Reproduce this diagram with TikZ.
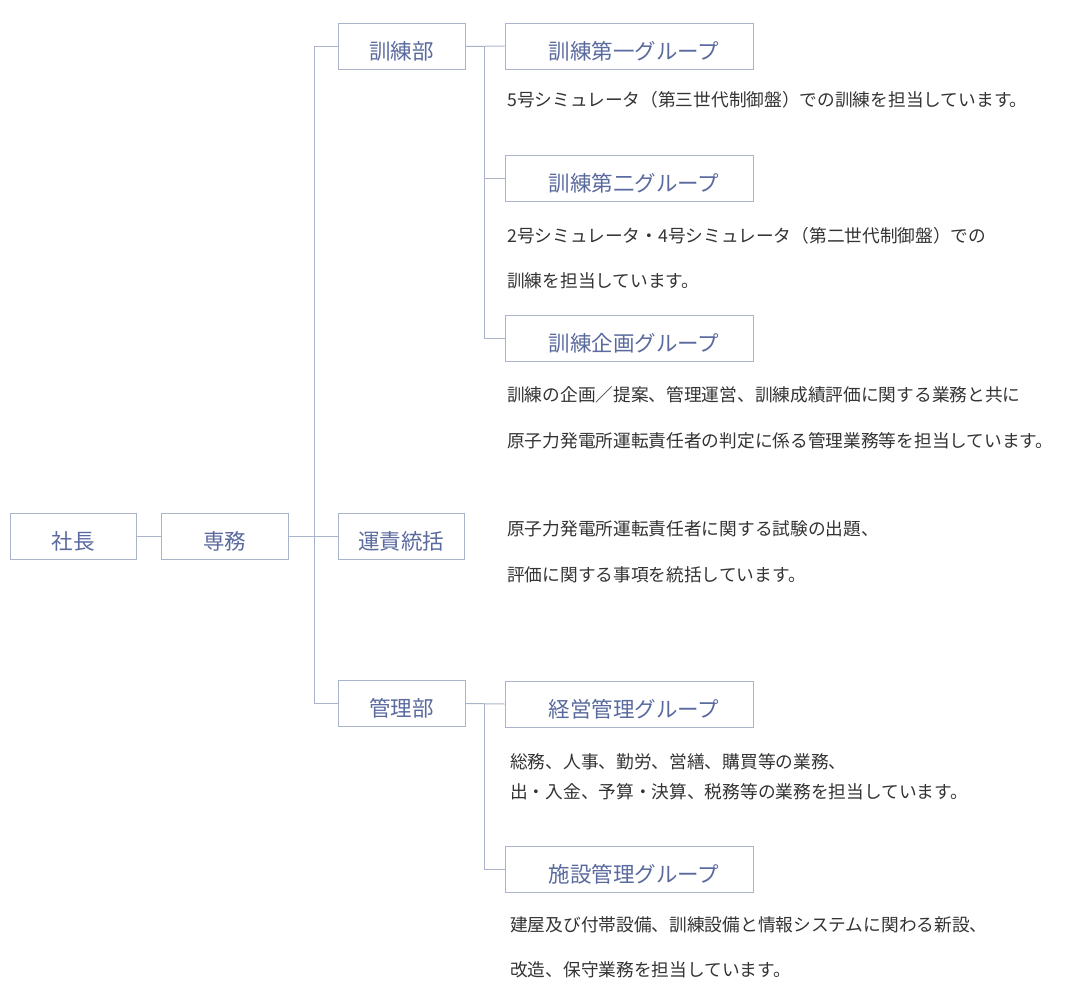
\documentclass[tikz,border=0pt]{standalone}
\usepackage{fontspec}
\setmainfont{Noto Sans CJK JP}
\definecolor{boxline}{HTML}{A9B3C9}
\definecolor{labelc}{HTML}{5A6A9E}
\definecolor{descc}{HTML}{333333}
\begin{document}
\begin{tikzpicture}[x=1pt,y=-1pt,
  unit/.style={draw=boxline,line width=1pt,minimum height=46pt,inner sep=0pt,text height=26pt,text depth=0pt,text=labelc,font=\fontsize{21.5}{24}\selectfont},
  small/.style={unit,minimum width=127pt},
  grp/.style={unit,minimum width=248pt,execute at begin node={\hspace*{10pt}}},
  desc/.style={anchor=west,inner sep=0pt,text=descc,font=\fontsize{17.7}{20}\selectfont},
  conn/.style={draw=boxline,line width=1pt}]
\useasboundingbox (0,0) rectangle (1085,985);
\node[small,minimum width=126pt] (shacho) at (73,536) {社長};
\node[small] (senmu) at (224.5,536) {専務};
\node[small] (kunrenbu) at (401.5,46.5) {訓練部};
\node[small,minimum width=126pt] (unseki) at (401,536.5) {運責統括};
\node[small] (kanribu) at (401.5,703.5) {管理部};
\node[grp] (g1) at (629,46) {訓練第一グループ};
\node[grp] (g2) at (629,178) {訓練第二グループ};
\node[grp] (g3) at (629,338.5) {訓練企画グループ};
\node[grp] (g4) at (629,704) {経営管理グループ};
\node[grp] (g5) at (629,869) {施設管理グループ};
\draw[conn] (shacho.east) -- (senmu.west);
\draw[conn] (senmu.east) -- (senmu.east -| unseki.west);
\draw[conn] (kunrenbu.west) -- ++(-23,0) coordinate (trtop) |- (kanribu.west);
\draw[conn] (kunrenbu.east) -- (g1.west);
\draw[conn] (kunrenbu.east) ++(19,0) coordinate (sub1) |- (g3.west);
\draw[conn] (g2.west) -- (g2.west -| sub1);
\draw[conn] (kanribu.east) -- (g4.west);
\draw[conn] (kanribu.east) ++(19,0) coordinate (sub2) |- (g5.west);
\node[desc] (d1) at (507,100) {5号シミュレータ（第三世代制御盤）での訓練を担当しています。};
\node[desc] (d2a) at (507,236) {2号シミュレータ・4号シミュレータ（第二世代制御盤）での};
\node[desc] (d2b) at (507,281) {訓練を担当しています。};
\node[desc] (d3a) at (507,395) {訓練の企画／提案、管理運営、訓練成績評価に関する業務と共に};
\node[desc] (d3b) at (507,441) {原子力発電所運転責任者の判定に係る管理業務等を担当しています。};
\node[desc] (d4a) at (507,529) {原子力発電所運転責任者に関する試験の出題、};
\node[desc] (d4b) at (507,575) {評価に関する事項を統括しています。};
\node[desc] (d5a) at (510,762) {総務、人事、勤労、営繕、購買等の業務、};
\node[desc] (d5b) at (510,792) {出・入金、予算・決算、税務等の業務を担当しています。};
\node[desc] (d6a) at (510,925) {建屋及び付帯設備、訓練設備と情報システムに関わる新設、};
\node[desc] (d6b) at (510,970) {改造、保守業務を担当しています。};
\end{tikzpicture}
\end{document}
